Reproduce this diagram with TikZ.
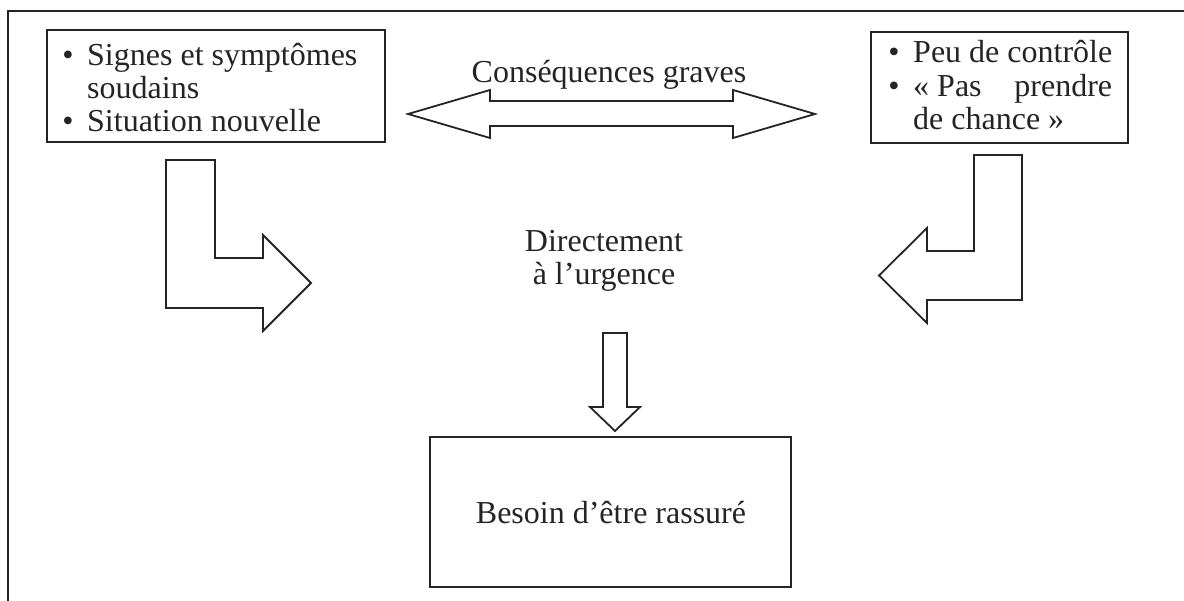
\documentclass[tikz,border=0pt]{standalone}
\usepackage{fontspec}
\setmainfont{Liberation Serif}
\definecolor{ink}{HTML}{242424}
\begin{document}
\begin{tikzpicture}[x=1pt, y=-1pt,
  frame/.style={draw=ink, line width=1.7pt},
  boxnode/.style={frame, inner sep=0pt},
  txt/.style={inner sep=0pt, anchor=base west, text=ink, font=\fontsize{32}{33}\selectfont},
  ctxt/.style={txt, anchor=base},
  bullet/.style={txt, anchor=base},
  blockarrow/.style={draw=ink, line width=1.8pt, line join=miter, fill=white}]

\useasboundingbox (0,0) rectangle (1184,601);

% open page frame (left and top rules only)
\draw[frame] (8,601) -- (8,11) -- (1184,11);

% boxes
\node[boxnode, minimum width=338pt, minimum height=112pt] (leftbox) at (216,86) {};
\node[boxnode, minimum width=257pt, minimum height=111pt] (rightbox) at (999.5,87.5) {};
\node[boxnode, minimum width=361pt, minimum height=150pt] (besoinbox) at (610.5,512) {};

% left box text
\node[bullet] (lb1) at (68,66) {•};
\node[txt] (sig1) at (87,66) {Signes et symptômes};
\node[txt] (sig2) at (87,99) {soudains};
\node[bullet] (lb2) at (68,132) {•};
\node[txt] (sig3) at (87,132) {Situation nouvelle};

% right box text
\node[bullet] (rb1) at (894,63) {•};
\node[txt] (peu) at (913,63) {Peu de contrôle};
\node[bullet] (rb2) at (894,97) {•};
\node[txt] (pas) at (913,97) {\makebox[199pt][l]{«\hspace{8pt}Pas\hfill prendre}};
\node[txt] (chance) at (913,130) {de chance »};

% central labels
\node[ctxt] (cons) at (609,83) {Conséquences graves};
\node[ctxt] (dir1) at (604,252) {Directement};
\node[ctxt] (dir2) at (604,285) {à l’urgence};
\node[ctxt] (besoin) at (611,523) {Besoin d’être rassuré};

% double block arrow
\draw[blockarrow] (408,114) -- (490,90) -- (490,101) -- (733,101) -- (733,90)
  -- (815,114) -- (733,138) -- (733,126) -- (490,126) -- (490,138) -- cycle;

% bent arrow on the left
\draw[blockarrow] (166,160) -- (215,160) -- (215,258) -- (263,258) -- (263,235)
  -- (311,283) -- (263,331) -- (263,308) -- (166,308) -- cycle;

% bent arrow on the right
\draw[blockarrow] (974,155) -- (1022,155) -- (1022,300) -- (927,300) -- (927,323)
  -- (879,275.5) -- (927,228) -- (927,251) -- (974,251) -- cycle;

% down arrow to the bottom box
\draw[blockarrow] (603,333) -- (627,333) -- (627,407) -- (640,407) -- (615,431)
  -- (590,407) -- (603,407) -- cycle;

\end{tikzpicture}
\end{document}
